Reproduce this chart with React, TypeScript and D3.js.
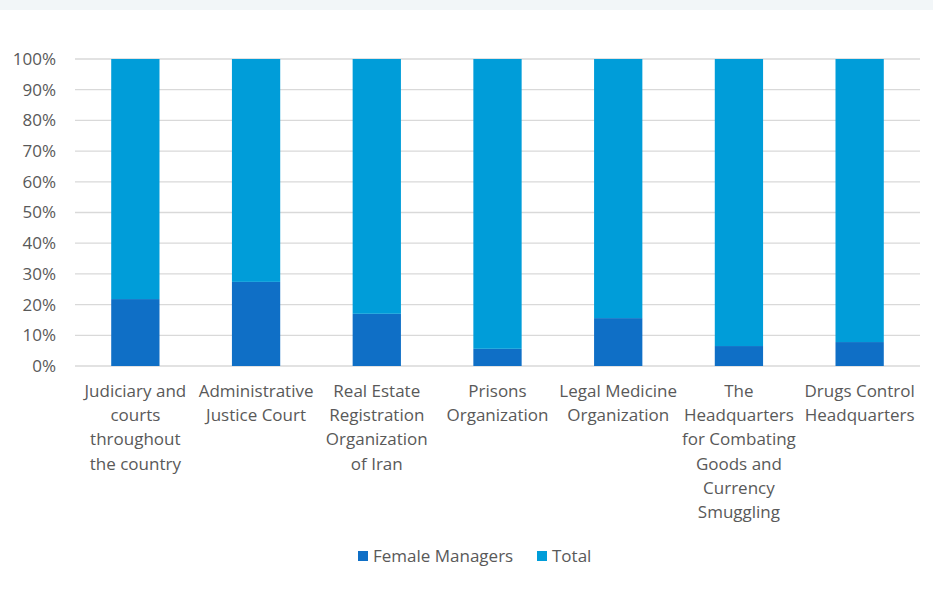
import React, { useEffect, useRef } from 'react';
import * as d3 from 'd3';

const categories = [
  'Judiciary and courts throughout the country',
  'Administrative Justice Court',
  'Real Estate Registration Organization of Iran',
  'Prisons Organization',
  'Legal Medicine Organization',
  'The Headquarters for Combating Goods and Currency Smuggling',
  'Drugs Control Headquarters',
];

// wrapped lines of the category labels as they appear on the axis
const categoryLines = [
  ['Judiciary and', 'courts', 'throughout', 'the country'],
  ['Administrative', 'Justice Court'],
  ['Real Estate', 'Registration', 'Organization', 'of Iran'],
  ['Prisons', 'Organization'],
  ['Legal Medicine', 'Organization'],
  ['The', 'Headquarters', 'for Combating', 'Goods and', 'Currency', 'Smuggling'],
  ['Drugs Control', 'Headquarters'],
];

// share of each bar in percent
const femaleManagers = [21.8, 27.4, 17.0, 5.6, 15.6, 6.5, 7.8];
const total = [78.2, 72.6, 83.0, 94.4, 84.4, 93.5, 92.2];

const seriesNames = ['Female Managers', 'Total'];
const seriesColors = ['#0F6FC6', '#009DD9'];
const yTicks = [0, 10, 20, 30, 40, 50, 60, 70, 80, 90, 100];

const App = () => {
  const svgRef = useRef(null);

  useEffect(() => {
    const width = 933;
    const height = 599;
    const margin = { top: 59, right: 13, bottom: 233, left: 75 };
    const innerW = width - margin.left - margin.right;
    const innerH = height - margin.top - margin.bottom;

    const svg = d3.select(svgRef.current);
    svg.selectAll('*').remove();
    svg.attr('width', width).attr('height', height);

    const font = "'Open Sans', 'Noto Sans', sans-serif";
    const fontSize = 17;

    // pale strip across the top
    svg.append('rect')
      .attr('x', 0).attr('y', 0)
      .attr('width', width).attr('height', 10)
      .attr('fill', '#f2f6f8');

    const rows = categories.map((c, i) => ({
      category: c,
      'Female Managers': femaleManagers[i],
      Total: total[i],
    }));

    const x = d3.scaleBand().domain(categories).range([0, innerW]).paddingInner(0.6).paddingOuter(0.3);
    const y = d3.scaleLinear().domain([0, 100]).range([innerH, 0]);

    const g = svg.append('g').attr('transform', `translate(${margin.left},${margin.top})`);

    // gridlines
    g.selectAll('.grid')
      .data(yTicks)
      .enter().append('line')
      .attr('x1', 0).attr('x2', innerW)
      .attr('y1', d => y(d)).attr('y2', d => y(d))
      .attr('stroke', '#d9d9d9')
      .attr('stroke-width', 1.3);

    // y tick labels
    g.selectAll('.ylab')
      .data(yTicks)
      .enter().append('text')
      .attr('x', -19)
      .attr('y', d => y(d))
      .attr('dy', '0.35em')
      .attr('text-anchor', 'end')
      .attr('font-family', font)
      .attr('font-size', fontSize)
      .attr('fill', '#595959')
      .text(d => d + '%');

    // stacked bars
    const stack = d3.stack().keys(seriesNames);
    const layers = stack(rows);
    layers.forEach((layer, li) => {
      g.selectAll('.bar' + li)
        .data(layer)
        .enter().append('rect')
        .attr('x', d => x(d.data.category))
        .attr('width', x.bandwidth())
        .attr('y', d => y(d[1]))
        .attr('height', d => y(d[0]) - y(d[1]))
        .attr('fill', seriesColors[li]);
    });

    // category labels
    categories.forEach((c, i) => {
      const t = g.append('text')
        .attr('x', x(c) + x.bandwidth() / 2)
        .attr('y', innerH + 31)
        .attr('text-anchor', 'middle')
        .attr('font-family', font)
        .attr('font-size', fontSize)
        .attr('fill', '#595959');
      categoryLines[i].forEach((line, li) => {
        t.append('tspan')
          .attr('x', x(c) + x.bandwidth() / 2)
          .attr('dy', li === 0 ? 0 : 24.2)
          .text(line);
      });
    });

    // legend
    const legend = svg.append('g').attr('transform', 'translate(358,556)');
    const legendX = [0, 179];
    seriesNames.forEach((s, i) => {
      legend.append('rect')
        .attr('x', legendX[i]).attr('y', -5)
        .attr('width', 10).attr('height', 10)
        .attr('fill', seriesColors[i]);
      legend.append('text')
        .attr('x', legendX[i] + 15)
        .attr('y', 0)
        .attr('dy', '0.35em')
        .attr('font-family', font)
        .attr('font-size', fontSize)
        .attr('fill', '#595959')
        .text(s);
    });
  }, []);

  return (
    <svg ref={svgRef} style={{ position: 'absolute', left: 0, top: 0, display: 'block', background: '#fff' }}></svg>
  );
};

export default App;
